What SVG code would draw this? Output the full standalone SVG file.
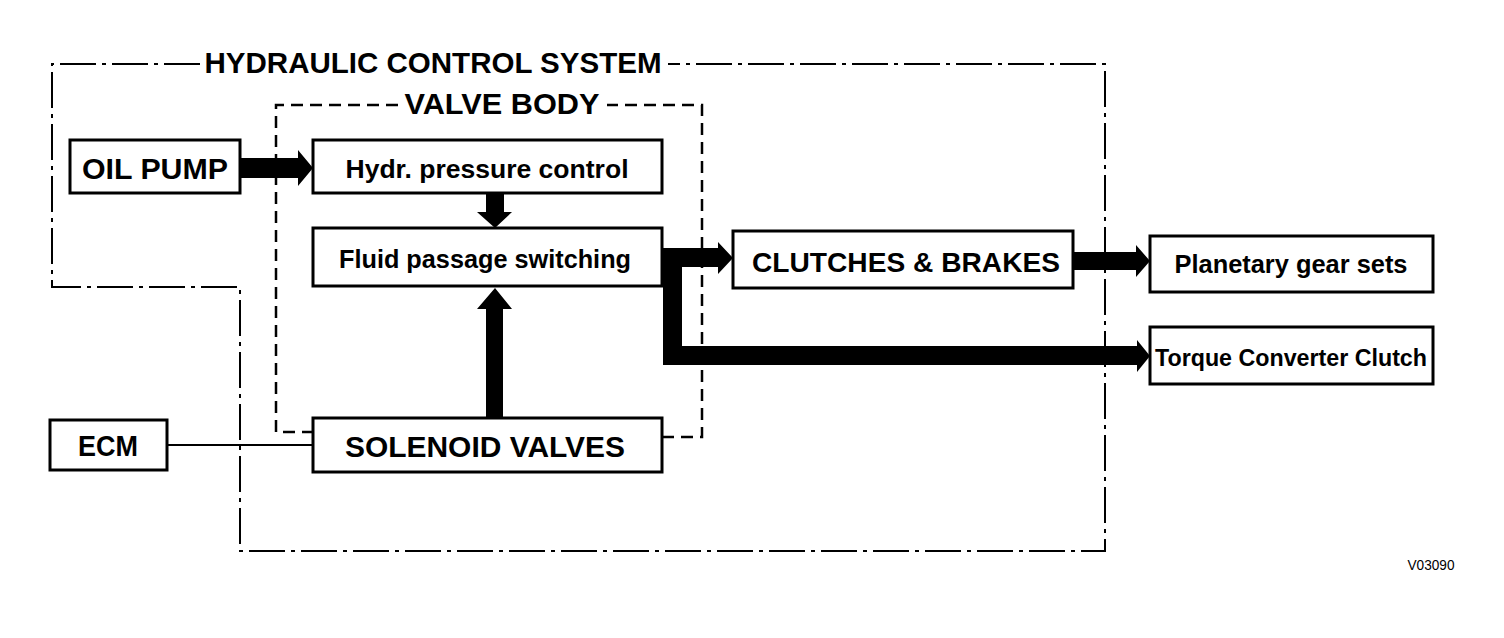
<svg xmlns="http://www.w3.org/2000/svg" width="1504" height="638" viewBox="0 0 1504 638">
<style>
.box{fill:#fff;stroke:#000;stroke-width:3}
.t{font-family:"Liberation Sans",Arial,sans-serif;font-weight:bold;fill:#000;text-anchor:middle}
.outer{fill:none;stroke:#000;stroke-width:2;stroke-dasharray:36 6 4 6}
.inner{fill:none;stroke:#000;stroke-width:2.5;stroke-dasharray:12 7}
.arr{fill:#000;stroke:none}
</style>
<rect width="1504" height="638" fill="#fff"/>
<g id="boundaries">
<path class="outer" d="M200,64 H52 V287 H240 V551 H1105 V64 H668"/>
<text class="t" x="433" y="73" font-size="30" textLength="457" lengthAdjust="spacingAndGlyphs">HYDRAULIC CONTROL SYSTEM</text>
<path class="inner" d="M398,105 H276 V432 H313 M662,437 H702 V105 H607"/>
<text class="t" x="502" y="114" font-size="30" textLength="195" lengthAdjust="spacingAndGlyphs">VALVE BODY</text>
</g>
<g id="connectors">
<polygon class="arr" points="240,158 298,158 298,150 313,168 298,186 298,178 240,178"/>
<polygon class="arr" points="486,193 504,193 504,212 512,212 495,228 477,212 486,212"/>
<polygon class="arr" points="486,418 503,418 503,309 512,309 495,288 477,309 486,309"/>
<polygon class="arr" points="662,248 718,248 718,242 733,258 718,274 718,267 682,267 682,346 1137,346 1137,340 1150,356 1137,372 1137,365 663,365 663,267 662,267"/>
<polygon class="arr" points="1073,252 1136,252 1136,245 1150,261 1136,277 1136,270 1073,270"/>
<line x1="167" y1="445" x2="313" y2="445" stroke="#000" stroke-width="2"/>
</g>
<g id="oil-pump"><rect class="box" x="70" y="140" width="170" height="53"/><text class="t" x="155" y="179" font-size="29" textLength="146" lengthAdjust="spacingAndGlyphs">OIL PUMP</text></g>
<g id="hydr-pressure-control"><rect class="box" x="313" y="140" width="349" height="53"/><text class="t" x="487" y="178" font-size="26" textLength="283" lengthAdjust="spacingAndGlyphs">Hydr. pressure control</text></g>
<g id="fluid-passage-switching"><rect class="box" x="313" y="228" width="349" height="58"/><text class="t" x="485" y="268" font-size="26" textLength="292" lengthAdjust="spacingAndGlyphs">Fluid passage switching</text></g>
<g id="solenoid-valves"><rect class="box" x="313" y="418" width="349" height="54"/><text class="t" x="485" y="457" font-size="29" textLength="280" lengthAdjust="spacingAndGlyphs">SOLENOID VALVES</text></g>
<g id="ecm"><rect class="box" x="50" y="420" width="117" height="50"/><text class="t" x="108" y="456" font-size="29" textLength="60" lengthAdjust="spacingAndGlyphs">ECM</text></g>
<g id="clutches-brakes"><rect class="box" x="733" y="231" width="340" height="57"/><text class="t" x="906" y="272" font-size="28" textLength="308" lengthAdjust="spacingAndGlyphs">CLUTCHES &amp; BRAKES</text></g>
<g id="planetary-gear-sets"><rect class="box" x="1150" y="236" width="283" height="56"/><text class="t" x="1291" y="273" font-size="25" textLength="233" lengthAdjust="spacingAndGlyphs">Planetary gear sets</text></g>
<g id="torque-converter-clutch"><rect class="box" x="1150" y="327" width="283" height="57"/><text class="t" x="1291" y="366" font-size="23" textLength="272" lengthAdjust="spacingAndGlyphs">Torque Converter Clutch</text></g>
<text x="1431" y="570" font-family="Liberation Sans,Arial,sans-serif" font-size="14" text-anchor="middle" textLength="47" lengthAdjust="spacingAndGlyphs">V03090</text>
</svg>
